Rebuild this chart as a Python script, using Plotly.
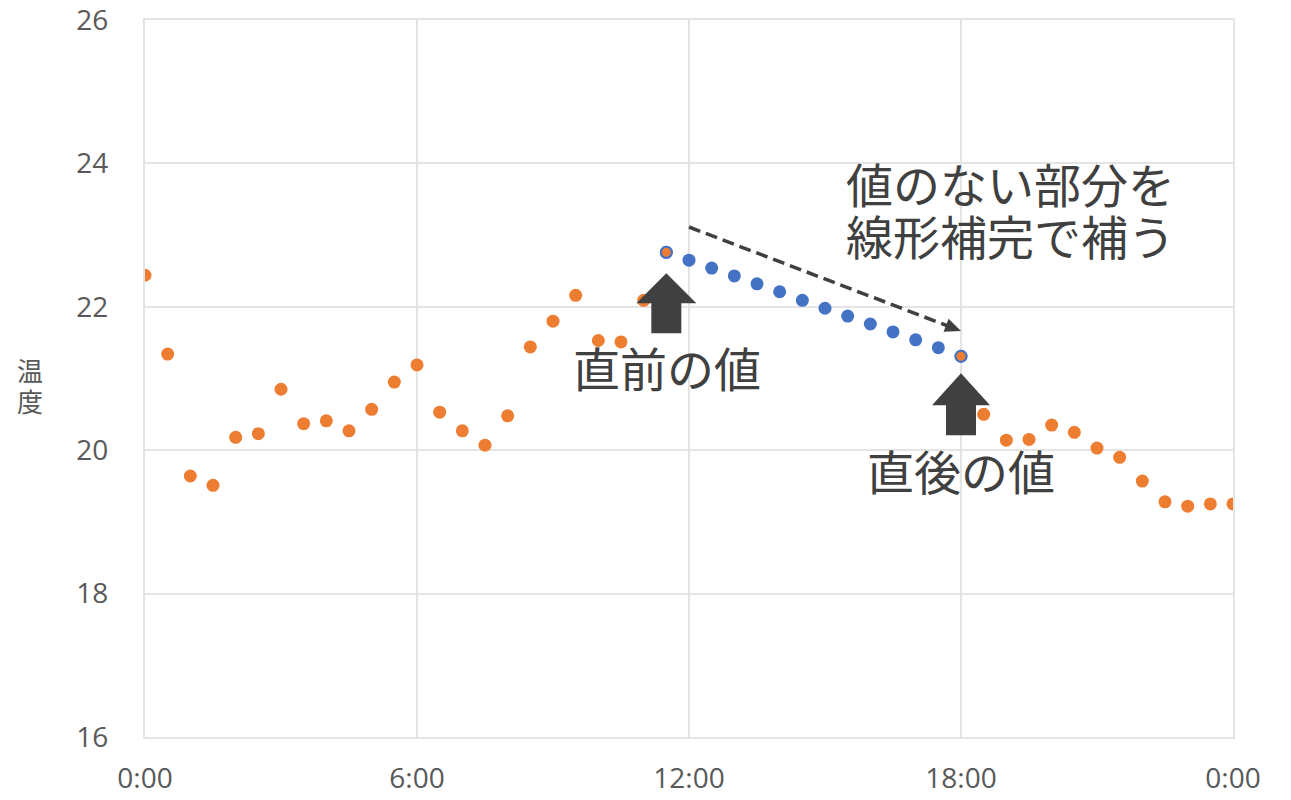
import math
import plotly.graph_objects as go

# ---- data -------------------------------------------------------------
hours = [i * 0.5 for i in range(49)]  # 0:00 .. 24:00 every 30 min
tick_vals = [0, 6, 12, 18, 24]
tick_text = ["0:00", "6:00", "12:00", "18:00", "0:00"]
y_ticks = [16, 18, 20, 22, 24, 26]

measured = [22.44, 21.34, 19.64, 19.51, 20.18, 20.23, 20.85, 20.37, 20.41, 20.27,
            20.57, 20.95, 21.19, 20.53, 20.27, 20.07, 20.48, 21.44, 21.80, 22.16,
            21.53, 21.51, 22.09, 22.76,
            None, None, None, None, None, None, None, None, None, None, None, None,
            21.31, 20.50, 20.14, 20.15, 20.35, 20.25, 20.03, 19.90, 19.57, 19.28,
            19.22, 19.25, 19.25]

interp_hours = hours[23:37]  # 11:30 .. 18:00
interpolated = [22.76, 22.65, 22.54, 22.43, 22.32, 22.21, 22.09, 21.98, 21.87,
                21.76, 21.65, 21.54, 21.43, 21.31]

ORANGE = "#ED7D31"
BLUE = "#4472C4"
DARK = "#404040"
TICK = "#595959"
GRID = "#e4e4e4"
JP = "Noto Sans CJK JP"

W, H = 1291, 800
ML, MR, MT, MB = 145, 58, 20, 63
PW, PH = W - ML - MR, H - MT - MB


def PX(px):
    return (px - ML) / PW


def PY(py):
    return (H - MB - py) / PH


fig = go.Figure()

fig.add_trace(go.Scatter(
    x=interp_hours, y=interpolated, mode="markers",
    marker=dict(color=BLUE, size=13, opacity=1, line=dict(width=0)),
    showlegend=False, hoverinfo="x+y"))

edge = [i in (23, 36) for i in range(len(hours))]
fig.add_trace(go.Scatter(
    x=hours, y=measured, mode="markers",
    marker=dict(color=ORANGE, opacity=1,
                size=[11 if e else 13 for e in edge],
                line=dict(color=[BLUE if e else ORANGE for e in edge],
                          width=[2 if e else 0 for e in edge])),
    showlegend=False, hoverinfo="x+y"))

# ---- block arrows (pixel offsets anchored on the data points) ----------
def block_arrow(xa, ya, tip, base, bottom, hw, sw=15):
    return dict(type="path", xref="x", yref="y",
                xsizemode="pixel", ysizemode="pixel",
                xanchor=xa, yanchor=ya,
                path=(f"M 0,{tip} L {hw},{base} L {sw},{base} L {sw},{bottom} "
                      f"L {-sw},{bottom} L {-sw},{base} L {-hw},{base} Z"),
                fillcolor=DARK, line=dict(width=0), layer="above")


fig.add_shape(block_arrow(hours[23], measured[23], -21, -51, -81, 30))
fig.add_shape(block_arrow(hours[36], measured[36], -17, -49, -79, 29))

# ---- dashed arrow ------------------------------------------------------
x0, y0, xt, yt = 689, 227, 961, 331
dx, dy = xt - x0, yt - y0
L = math.hypot(dx, dy)
ux, uy = dx / L, dy / L
hl, hwid = 16, 7
bx, by = xt - hl * ux, yt - hl * uy
fig.add_shape(type="line", xref="paper", yref="paper",
              x0=PX(x0), y0=PY(y0), x1=PX(bx + 2 * ux), y1=PY(by + 2 * uy),
              line=dict(color=DARK, width=3.5, dash="12px,6px"))
fig.add_shape(type="path", xref="paper", yref="paper",
              path=(f"M {PX(xt)},{PY(yt)} L {PX(bx - hwid * uy)},{PY(by + hwid * ux)} "
                    f"L {PX(bx + hwid * uy)},{PY(by - hwid * ux)} Z"),
              fillcolor=DARK, line=dict(width=0))

# ---- texts -------------------------------------------------------------
def label(text, px, py, size=47, color=DARK):
    fig.add_annotation(text=text, xref="paper", yref="paper", x=PX(px), y=PY(py),
                       xanchor="center", yanchor="middle", showarrow=False,
                       font=dict(family=JP, size=size, color=color))


label("直前の値", 667, 366)
label("直後の値", 961, 469)
label("値のない部分を", 1010, 182)
label("線形補完で補う", 1010, 234)

label("温", 30, 369, size=26, color=TICK)
label("度", 30, 400, size=26, color=TICK)

axis_common = dict(showgrid=True, gridcolor=GRID, gridwidth=2, zeroline=False,
                   showline=True, linecolor=GRID, linewidth=2, mirror=True,
                   automargin=False, ticklabeloverflow="allow",
                   ticks="", tickfont=dict(family="Open Sans", size=28, color=TICK))

fig.update_layout(
    width=W, height=H,
    margin=dict(l=ML, r=MR, t=MT, b=MB),
    paper_bgcolor="white", plot_bgcolor="white",
    xaxis=dict(range=[0, 24], tickvals=tick_vals, ticktext=tick_text,
               ticklabelstandoff=15, **axis_common),
    yaxis=dict(range=[16, 26], tickvals=y_ticks,
               ticklabelstandoff=29, **axis_common),
)

fig.write_html("out.html")
